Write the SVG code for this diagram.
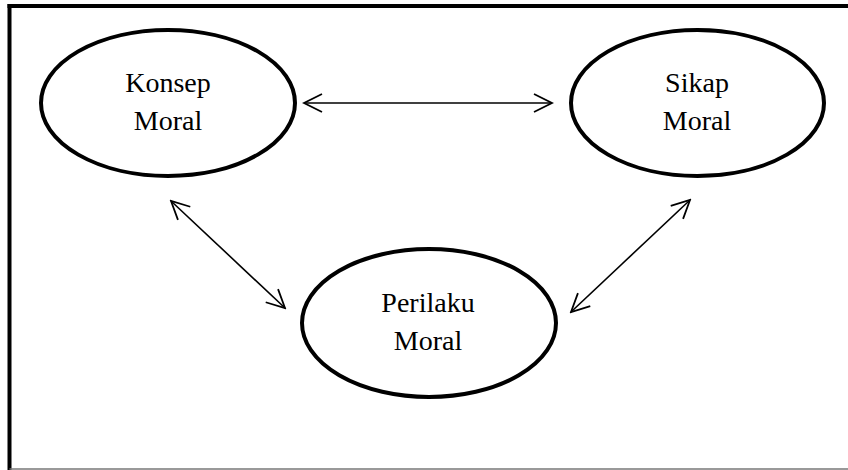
<svg xmlns="http://www.w3.org/2000/svg" width="848" height="470" viewBox="0 0 848 470">
<style>
.node ellipse{fill:#fff;stroke:#000;stroke-width:4}
.node text{font-family:"Liberation Serif","Times New Roman",serif;font-size:28px;fill:#000;text-anchor:middle}
.conn line{stroke:#000;stroke-width:1.6;fill:none}
</style>
<defs>
<marker id="ah" markerUnits="userSpaceOnUse" viewBox="-20 -11 22 22" refX="0" refY="0" markerWidth="22" markerHeight="22" orient="auto-start-reverse">
<path d="M-18,-9 L0,0 L-18,9" fill="none" stroke="#000" stroke-width="1.8" stroke-linejoin="miter"/>
</marker>
</defs>
<rect width="848" height="470" fill="#fff"/>
<g id="frame">
<line x1="7.5" y1="6" x2="848" y2="6" stroke="#000" stroke-width="4"/>
<line x1="9.5" y1="4" x2="9.5" y2="470" stroke="#000" stroke-width="4"/>
<line x1="9.5" y1="469" x2="848" y2="469" stroke="#777" stroke-width="1.5"/>
</g>
<g id="connectors" class="conn">
<line x1="304" y1="103" x2="552" y2="103" marker-start="url(#ah)" marker-end="url(#ah)"/>
<line x1="171" y1="201" x2="285" y2="308" marker-start="url(#ah)" marker-end="url(#ah)"/>
<line x1="690" y1="200" x2="571" y2="312" marker-start="url(#ah)" marker-end="url(#ah)"/>
</g>
<g id="konsep" class="node">
<ellipse cx="168" cy="103" rx="127" ry="73"/>
<text x="168" y="92">Konsep</text>
<text x="168" y="130">Moral</text>
</g>
<g id="sikap" class="node">
<ellipse cx="697.5" cy="103" rx="126.5" ry="73"/>
<text x="697" y="92">Sikap</text>
<text x="697" y="130">Moral</text>
</g>
<g id="perilaku" class="node">
<ellipse cx="429" cy="323" rx="127" ry="74"/>
<text x="428" y="312">Perilaku</text>
<text x="428" y="350">Moral</text>
</g>
</svg>
